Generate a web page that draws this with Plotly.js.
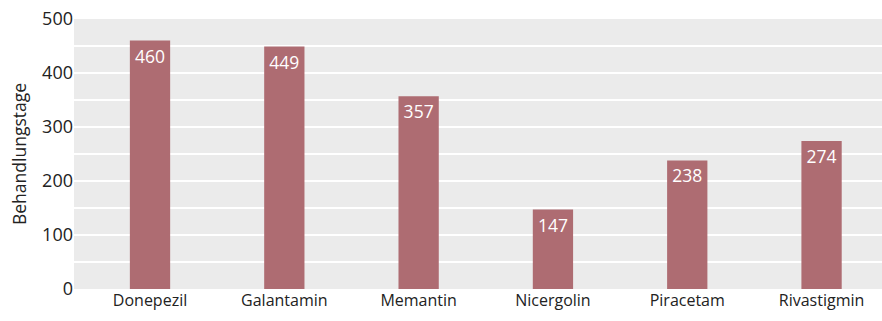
<!DOCTYPE html>
<html><head><meta charset="utf-8">
<script src="https://cdn.plot.ly/plotly-3.0.1.min.js"></script>
<style>html,body{margin:0;padding:0;background:#fff}#c{width:882px;height:321px}</style>
</head><body><div id="c"></div>
<script>
const categories = ["Donepezil","Galantamin","Memantin","Nicergolin","Piracetam","Rivastigmin"];
const values = [460, 449, 357, 147, 238, 274];
const yTitle = "Behandlungstage";
const FONT = "Open Sans, sans-serif";
Plotly.newPlot("c", [{
  type: "bar", x: categories, y: values, width: 0.3,
  marker: {color: "#ae6c72"},
  text: values.map(String), textposition: "inside", insidetextanchor: "end", textangle: 0,
  textfont: {family: FONT, size: 17.5, color: "#ffffff"},
  hoverinfo: "none", cliponaxis: false
}], {
  width: 882, height: 321,
  margin: {l: 74, r: 0, t: 19, b: 32, pad: 0},
  paper_bgcolor: "#ffffff", plot_bgcolor: "#ebebeb",
  showlegend: false, uniformtext: {mode: false},
  font: {family: FONT, color: "#222222"},
  xaxis: {type: "category", range: [-0.566, 5.45], showgrid: false, zeroline: false,
    ticks: "", tickfont: {size: 16, color: "#222"}, fixedrange: true},
  yaxis: {range: [0, 500], dtick: 100, tick0: 0, showgrid: true, gridcolor: "#ffffff", gridwidth: 2.6,
    minor: {dtick: 50, showgrid: true, gridcolor: "#ffffff", gridwidth: 2.6},
    zeroline: false, ticks: "", tickfont: {size: 18, color: "#222"},
    title: {text: yTitle, font: {size: 17.5, color: "#222"}, standoff: 10}, fixedrange: true}
}, {displayModeBar: false, staticPlot: true});
</script></body></html>
